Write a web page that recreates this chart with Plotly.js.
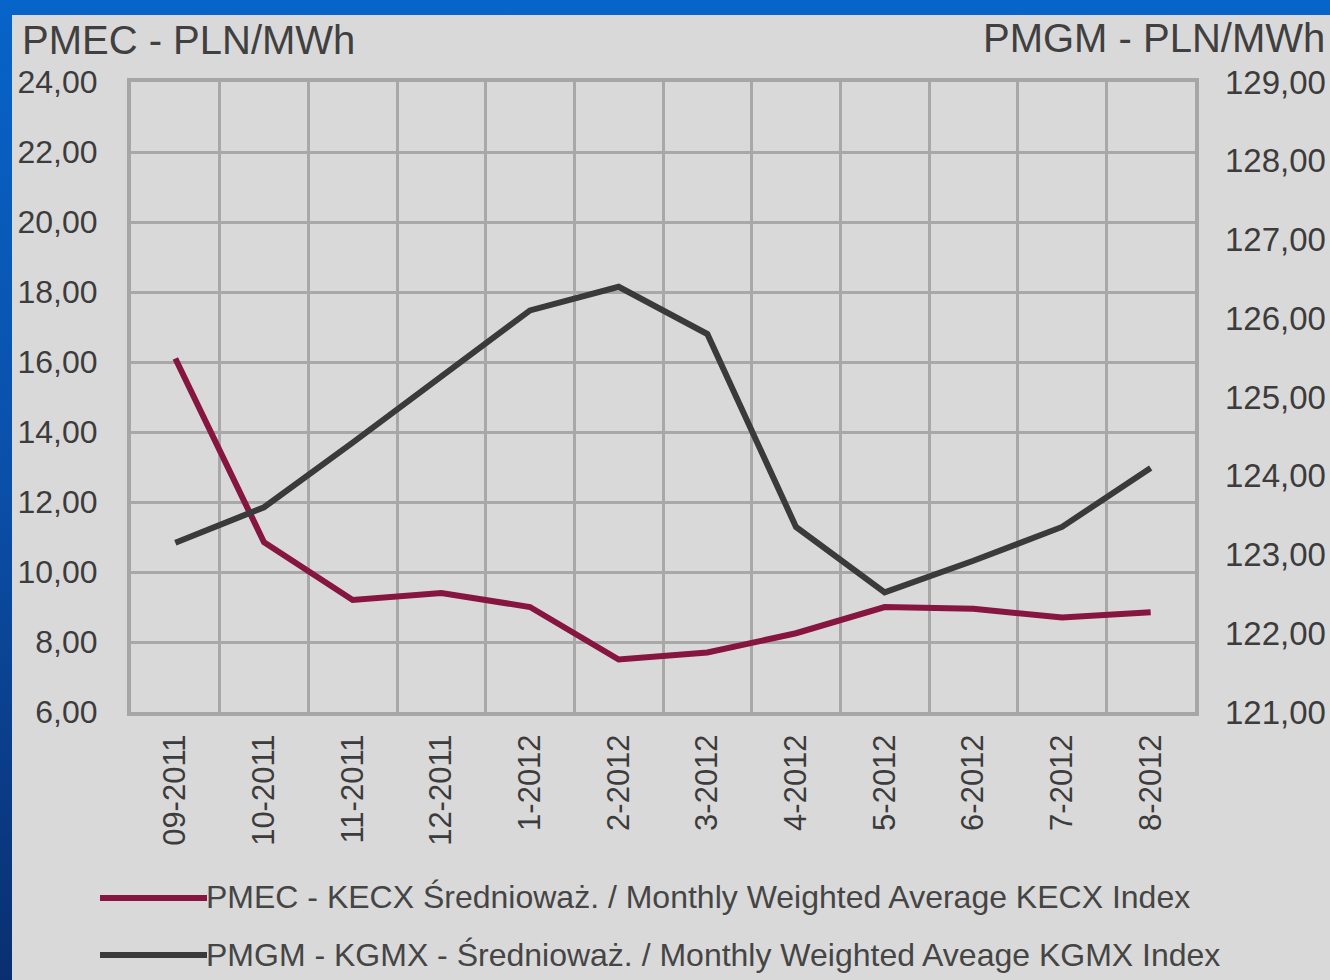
<!DOCTYPE html>
<html>
<head>
<meta charset="utf-8">
<script src="https://cdn.plot.ly/plotly-3.0.1.min.js"></script>
<style>
  html, body { margin:0; padding:0; width:1330px; height:980px; overflow:hidden;
    background: linear-gradient(to bottom, #0764c9 0%, #0a4fa8 50%, #0a2f70 100%); }
  #chart { position:absolute; left:12px; top:15px; width:1318px; height:965px; }
</style>
</head>
<body>
<div id="chart"></div>
<script>
const months = ["09-2011","10-2011","11-2011","12-2011","1-2012","2-2012","3-2012","4-2012","5-2012","6-2012","7-2012","8-2012"];
const pmecValues = [16.1, 10.85, 9.2, 9.4, 9.0, 7.5, 7.7, 8.25, 9.0, 8.95, 8.7, 8.85];
const pmgmValues = [123.15, 123.6, 124.42, 125.25, 126.1, 126.4, 125.8, 123.35, 122.52, 122.92, 123.35, 124.1];
const pmecName = "PMEC - KECX Średnioważ. / Monthly Weighted Average KECX Index";
const pmgmName = "PMGM - KGMX - Średnioważ. / Monthly Weighted Aveage KGMX Index";
const leftTitle = "PMEC - PLN/MWh";
const rightTitle = "PMGM - PLN/MWh";

const FONT = "'Liberation Sans', Arial, sans-serif";
const redColor = "#86163f";
const greyColor = "#3a3a3a";
const textColor = "#3c3c3c";

const traces = [
  { x: months, y: pmecValues, type: "scatter", mode: "lines", name: pmecName,
    line: { color: redColor, width: 6 }, yaxis: "y" },
  { x: months, y: pmgmValues, type: "scatter", mode: "lines", name: pmgmName,
    line: { color: greyColor, width: 6 }, yaxis: "y2" }
];

// Plot area: x 131..1195, y 82..712 in page px; div offset (12,15)
const PL = 131, PR = 1195, PT = 82, PB = 712;
const px = v => (v - PL) / (PR - PL);
const py = v => (PB - v) / (PB - PT);

const layout = {
  width: 1318, height: 965,
  margin: { l: PL - 12, r: 1330 - PR, t: PT - 15, b: 980 - PB, pad: 0 },
  paper_bgcolor: "#d9d9d9",
  plot_bgcolor: "#d9d9d9",
  separators: ", ",
  showlegend: false,
  font: { family: FONT, color: textColor },
  xaxis: {
    type: "category", range: [-0.5, 11.5], tickson: "boundaries",
    showgrid: true, gridcolor: "#a8a8a8", gridwidth: 3,
    showline: true, linecolor: "#a6a6a6", linewidth: 4, mirror: true,
    ticks: "", tickangle: -90, ticklabelstandoff: 6,
    tickfont: { family: FONT, size: 31, color: textColor },
    zeroline: false, fixedrange: true
  },
  yaxis: {
    range: [6, 24], tick0: 6, dtick: 2, tickformat: ".2f",
    showgrid: true, gridcolor: "#a8a8a8", gridwidth: 3,
    showline: true, linecolor: "#a6a6a6", linewidth: 4, mirror: true,
    ticks: "", ticklabelstandoff: 23,
    tickfont: { family: FONT, size: 32, color: textColor },
    zeroline: false, fixedrange: true
  },
  yaxis2: {
    overlaying: "y", side: "right",
    range: [121, 129], tick0: 121, dtick: 1, tickformat: ".2f",
    showgrid: false, showline: false, ticks: "", ticklabelstandoff: 29,
    tickfont: { family: FONT, size: 33, color: textColor },
    zeroline: false, fixedrange: true
  },
  annotations: [
    { xref: "paper", yref: "paper", x: px(20), y: py(40), xanchor: "left", yanchor: "middle",
      text: leftTitle, showarrow: false, font: { family: FONT, size: 40, color: "#404040" } },
    { xref: "paper", yref: "paper", x: px(1327), y: py(38), xanchor: "right", yanchor: "middle",
      text: rightTitle, showarrow: false, font: { family: FONT, size: 40, color: "#404040" } },
    { xref: "paper", yref: "paper", x: px(204), y: py(897), xanchor: "left", yanchor: "middle",
      text: pmecName, showarrow: false, font: { family: FONT, size: 32, color: "#454545" } },
    { xref: "paper", yref: "paper", x: px(204), y: py(955), xanchor: "left", yanchor: "middle",
      text: pmgmName, showarrow: false, font: { family: FONT, size: 32, color: "#454545" } }
  ],
  shapes: [
    { type: "line", xref: "paper", yref: "paper", x0: px(100), x1: px(207), y0: py(898), y1: py(898),
      line: { color: redColor, width: 6 } },
    { type: "line", xref: "paper", yref: "paper", x0: px(100), x1: px(207), y0: py(955), y1: py(955),
      line: { color: greyColor, width: 6 } }
  ]
};

Plotly.newPlot("chart", traces, layout, { staticPlot: true, displayModeBar: false });
</script>
</body>
</html>
